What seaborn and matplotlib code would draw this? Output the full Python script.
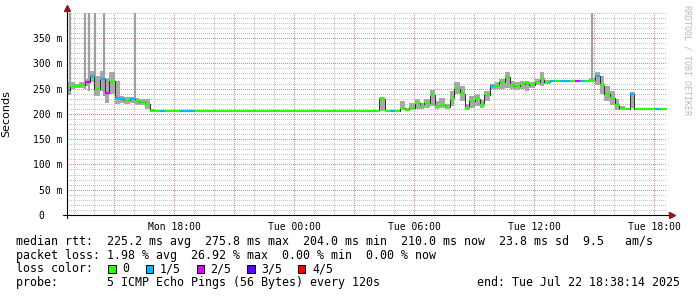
import matplotlib
matplotlib.use("Agg")
import numpy as np
import pandas as pd
import seaborn as sns
import matplotlib.pyplot as plt
from matplotlib.patches import Rectangle
from matplotlib.lines import Line2D

# ---------------- data ----------------
start_time = "2025-07-21 12:38:14"
end_time = "2025-07-22 18:38:14"
step = "15min"

median_ms = [
    248, 255, 256, 257, 262, 275, 250, 268, 242, 265,
    232, 229, 228, 229, 226, 224, 220, 206, 205, 205,
    205, 205, 205, 205, 205, 205, 205, 205, 205, 205,
    205, 205, 205, 205, 205, 205, 205, 205, 205, 205,
    205, 205, 205, 205, 205, 205, 205, 205, 205, 205,
    205, 205, 205, 205, 205, 205, 205, 205, 205, 205,
    205, 206, 205, 230, 206, 205, 206, 212, 208, 212,
    222, 215, 222, 238, 215, 218, 213, 230, 250, 240,
    212, 225, 230, 218, 238, 255, 256, 262, 272, 258,
    256, 259, 261, 257, 262, 268, 263, 264, 264, 265,
    265, 264, 265, 264, 265, 266, 275, 258, 240, 232,
    218, 212, 210, 240, 210, 210, 210, 210, 210, 210,
    210,
]
smoke_lo_ms = [
    237, 250, 252, 252, 255, 262, 235, 245, 222, 240,
    220, 222, 220, 222, 218, 218, 210, 205, 205, 205,
    205, 205, 205, 205, 205, 205, 205, 205, 205, 205,
    205, 205, 205, 205, 205, 205, 205, 205, 205, 205,
    205, 205, 205, 205, 205, 205, 205, 205, 205, 205,
    205, 205, 205, 205, 205, 205, 205, 205, 205, 205,
    205, 206, 205, 205, 206, 205, 206, 208, 206, 208,
    210, 210, 212, 215, 210, 212, 210, 215, 240, 225,
    208, 212, 215, 212, 225, 250, 250, 250, 252, 250,
    248, 250, 245, 252, 258, 255, 260, 262, 262, 262,
    262, 262, 262, 262, 262, 262, 258, 240, 225, 218,
    208, 208, 210, 212, 210, 210, 210, 210, 210, 210,
    210,
]
smoke_hi_ms = [
    262, 262, 260, 262, 268, 285, 275, 285, 270, 282,
    265, 235, 234, 234, 232, 230, 230, 210, 206, 206,
    206, 206, 206, 206, 206, 206, 206, 206, 206, 206,
    206, 206, 206, 206, 206, 206, 206, 206, 206, 206,
    206, 206, 206, 206, 206, 206, 206, 206, 206, 206,
    206, 206, 206, 206, 206, 206, 206, 206, 206, 206,
    206, 207, 206, 234, 207, 206, 207, 225, 212, 222,
    230, 222, 230, 248, 225, 232, 220, 245, 262, 255,
    220, 235, 240, 228, 245, 260, 262, 268, 282, 265,
    262, 265, 265, 262, 268, 282, 266, 267, 267, 267,
    267, 267, 267, 267, 267, 270, 282, 275, 255, 245,
    230, 215, 211, 244, 211, 211, 211, 211, 211, 211,
    211,
]
loss_of_5 = [
    1, 0, 0, 0, 2, 1, 0, 1, 2, 0,
    1, 1, 0, 1, 0, 0, 0, 0, 0, 1,
    0, 0, 0, 1, 1, 1, 0, 0, 0, 0,
    0, 0, 0, 0, 0, 0, 0, 0, 0, 0,
    0, 0, 0, 0, 0, 0, 0, 0, 0, 0,
    0, 0, 0, 0, 0, 0, 0, 0, 0, 0,
    0, 0, 0, 0, 0, 1, 0, 0, 0, 0,
    0, 0, 0, 0, 0, 0, 0, 0, 0, 0,
    0, 0, 0, 0, 0, 1, 0, 0, 0, 0,
    0, 0, 0, 0, 0, 0, 0, 1, 0, 1,
    1, 0, 2, 1, 0, 0, 1, 0, 0, 0,
    0, 0, 0, 1, 0, 0, 0, 0, 1, 0,
    0,
]
spike_times = ["2025-07-21 12:47", "2025-07-21 13:32", "2025-07-21 13:45",
               "2025-07-21 14:02", "2025-07-21 14:30", "2025-07-21 16:02",
               "2025-07-22 14:53"]
spike_low_ms = [237, 250, 245, 240, 235, 222, 262]
spike_high_ms = [420, 420, 420, 420, 420, 420, 420]

loss_labels = ["0", "1/5", "2/5", "3/5", "4/5"]
loss_colors = ["#26ff00", "#00b8ff", "#dd00ff", "#5e00ff", "#ff0000"]

y_ticks = [0, 50, 100, 150, 200, 250, 300, 350]
y_tick_labels = ["0   ", "50 m", "100 m", "150 m", "200 m", "250 m", "300 m", "350 m"]
x_major_labels = ["", "Mon 18:00", "", "Tue 00:00", "", "Tue 06:00", "",
                  "Tue 12:00", "", "Tue 18:00"]

legend_rows = [
    "median rtt:  225.2 ms avg  275.8 ms max  204.0 ms min  210.0 ms now  23.8 ms sd  9.5   am/s",
    "packet loss: 1.98 % avg  26.92 % max  0.00 % min  0.00 % now",
    "loss color:",
    "probe:       5 ICMP Echo Pings (56 Bytes) every 120s",
]
end_label = "end: Tue Jul 22 18:38:14 2025"
side_label = "RRDTOOL / TOBI OETIKER"

# ---------------- figure ----------------
sns.set_theme(style="white")
plt.rcParams["font.family"] = ["DejaVu Sans Mono", "DejaVu Sans"]

W, H = 697, 297
fig = plt.figure(figsize=(W / 100, H / 100), dpi=100, facecolor="white")
ax = fig.add_axes([67 / W, (H - 215) / H, 600 / W, 202.3 / H])
ax.set_facecolor("white")

t0 = pd.Timestamp(start_time)
t1 = pd.Timestamp(end_time)
times = pd.date_range(t0, periods=len(median_ms), freq=step)
df = pd.DataFrame({"time": times, "median": median_ms, "lo": smoke_lo_ms,
                   "hi": smoke_hi_ms, "loss": loss_of_5})
half = pd.Timedelta(step) / 2

# smoke
ax.fill_between(df["time"], df["lo"], df["hi"], step="mid",
                color="#a8a8a8", lw=0, zorder=2)
ax.vlines(pd.to_datetime(spike_times), spike_low_ms, spike_high_ms,
          colors="#a0a0a0", lw=1.6, zorder=2)

# median: dark connecting line + loss-coloured segments
sns.lineplot(data=df, x="time", y="median", drawstyle="steps-mid",
             color="#303030", lw=0.7, ax=ax, zorder=3)
seg_colors = [loss_colors[k] for k in df["loss"]]
ax.hlines(df["median"], df["time"] - half, df["time"] + half,
          colors=seg_colors, lw=1.6, zorder=4)

ax.set_xlim(t0, t1)
ax.set_ylim(0, 400)

# grid
grid_style = dict(linestyle=(0, (1, 2)), linewidth=0.72, antialiased=False)
major_x = pd.date_range("2025-07-21 15:00", "2025-07-22 18:00", freq="3h")
minor_x = pd.date_range("2025-07-21 13:00", "2025-07-22 18:00", freq="1h")
ax.set_xticks(major_x)
ax.set_xticklabels(x_major_labels)
ax.set_xticks(minor_x, minor=True)
ax.set_yticks(y_ticks)
ax.set_yticklabels(y_tick_labels)
ax.set_yticks(np.arange(0, 401, 10), minor=True)
ax.grid(which="minor", color="#c4c4c4", zorder=0, **grid_style)
ax.grid(which="major", color="#d98a8a", zorder=1, **grid_style)
ax.set_axisbelow(True)
ax.tick_params(axis="both", which="both", length=0, labelsize=7)
ax.tick_params(axis="x", pad=5)
ax.tick_params(axis="y", pad=3)
for lab in ax.get_xticklabels() + ax.get_yticklabels():
    lab.set_family("DejaVu Sans Mono")
    lab.set_color("black")
ax.set_xlabel("")
ax.set_ylabel("Seconds", family="DejaVu Sans", fontsize=8, color="black")
ax.yaxis.set_label_coords(-56 / 600, 0.5)
for s in ax.spines.values():
    s.set_visible(False)

# axes with arrows
ax.add_line(Line2D([0, 0], [-0.015, 1.015], transform=ax.transAxes,
                   color="black", lw=0.8, clip_on=False, zorder=6))
ax.add_line(Line2D([-0.006, 1.008], [0, 0], transform=ax.transAxes,
                   color="black", lw=0.8, clip_on=False, zorder=6))
ax.plot([0], [1.025], marker="^", ms=4, color="#8b1a1a",
        transform=ax.transAxes, clip_on=False, zorder=7)
ax.plot([1.008], [0], marker=">", ms=4, color="#8b1a1a",
        transform=ax.transAxes, clip_on=False, zorder=7)

# legend text
fs = 8.4
row_y = [241.7, 255.0, 269.0, 282.5]
for txt, yy in zip(legend_rows, row_y):
    fig.text(16 / W, 1 - yy / H, txt, family="DejaVu Sans Mono",
             fontsize=fs, va="center", ha="left", color="black")
fig.text(680 / W, 1 - row_y[3] / H, end_label, family="DejaVu Sans Mono",
         fontsize=fs, va="center", ha="right", color="black")

sq_x = [108.3, 145.7, 196.7, 247.3, 297.7]
lab_x = [122.5, 159.3, 210.5, 261.5, 312.3]
for c, lbl, sx, lx in zip(loss_colors, loss_labels, sq_x, lab_x):
    fig.patches.append(Rectangle((sx / W, 1 - 273.3 / H), 7.6 / W, 8.3 / H,
                                 transform=fig.transFigure, facecolor=c,
                                 edgecolor="black", lw=0.7))
    fig.text(lx / W, 1 - row_y[2] / H, lbl, family="DejaVu Sans Mono",
             fontsize=fs, va="center", ha="left", color="black")

fig.text(687 / W, 1 - 60 / H, side_label, rotation=270, family="DejaVu Sans Mono",
         fontsize=6, va="center", ha="center", color="#b8b8b8")

fig.savefig("out.png", dpi=100, facecolor="white")
